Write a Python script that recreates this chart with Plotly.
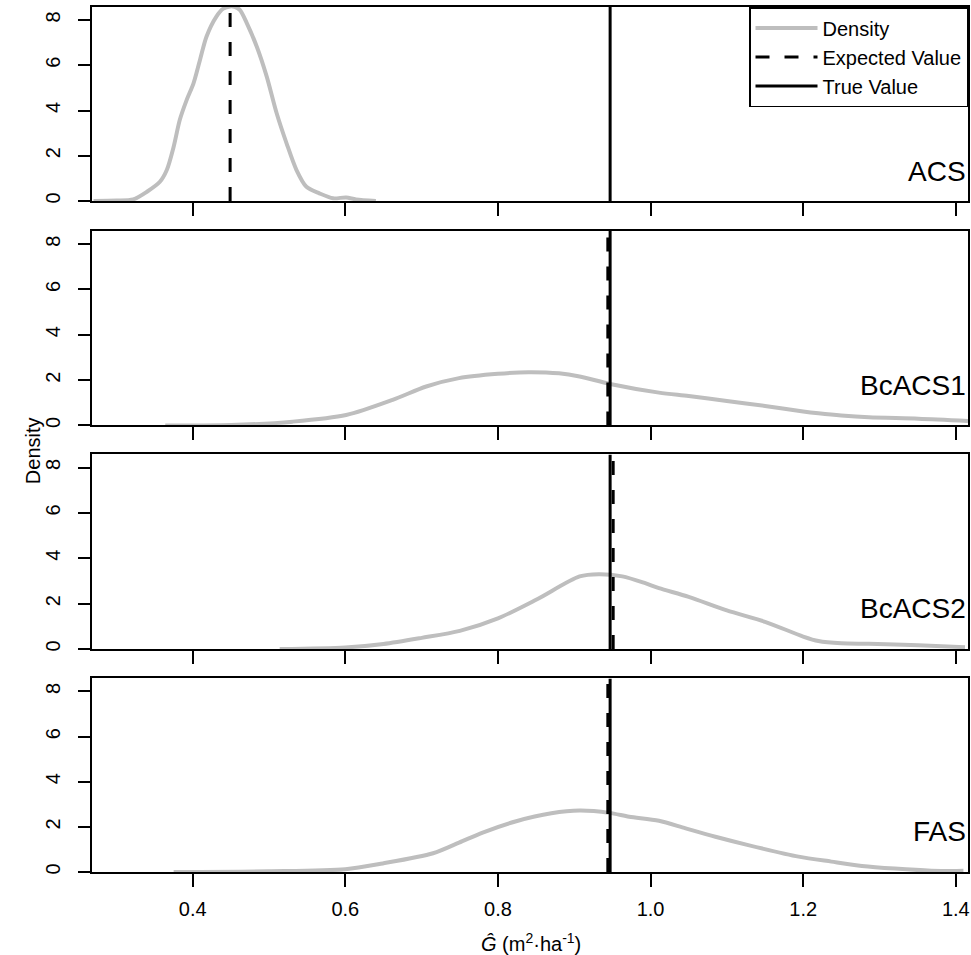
import plotly.graph_objects as go

# ---- data ----
panels = ["ACS", "BcACS1", "BcACS2", "FAS"]

acs_x = [0.27, 0.30, 0.322, 0.34, 0.357, 0.366, 0.375, 0.383, 0.392, 0.401, 0.41, 0.418, 0.431, 0.44, 0.449,
         0.455, 0.462, 0.471, 0.484, 0.497, 0.51, 0.523, 0.536, 0.549, 0.566, 0.584, 0.601, 0.614, 0.64]
acs_y = [0.0, 0.02, 0.07, 0.41, 0.85, 1.37, 2.4, 3.58, 4.46, 5.2, 6.3, 7.26, 8.15, 8.5, 8.6,
         8.58, 8.44, 7.85, 6.82, 5.5, 3.88, 2.55, 1.37, 0.63, 0.34, 0.12, 0.16, 0.07, 0.0]

bc1_x = [0.364, 0.45, 0.531, 0.601, 0.662, 0.706, 0.749, 0.8, 0.84, 0.88, 0.907, 0.947, 1.011, 1.05,
         1.1, 1.15, 1.2, 1.22, 1.25, 1.286, 1.351, 1.416]
bc1_y = [0.0, 0.02, 0.17, 0.46, 1.13, 1.72, 2.09, 2.28, 2.35, 2.3, 2.16, 1.83, 1.45, 1.3,
         1.08, 0.86, 0.62, 0.54, 0.44, 0.36, 0.3, 0.2]

bc2_x = [0.514, 0.6, 0.65, 0.7, 0.75, 0.8, 0.85, 0.907, 0.932, 0.963, 0.993, 1.011, 1.05, 1.1,
         1.15, 1.2, 1.22, 1.25, 1.286, 1.351, 1.412]
bc2_y = [0.0, 0.07, 0.22, 0.49, 0.8, 1.35, 2.17, 3.2, 3.3, 3.2, 2.9, 2.68, 2.3, 1.7,
         1.2, 0.55, 0.35, 0.25, 0.23, 0.17, 0.08]

fas_x = [0.375, 0.5, 0.6, 0.649, 0.715, 0.749, 0.78, 0.824, 0.87, 0.907, 0.946, 0.972, 1.011, 1.046,
         1.085, 1.128, 1.194, 1.237, 1.277, 1.32, 1.368, 1.41]
fas_y = [0.0, 0.03, 0.12, 0.38, 0.83, 1.3, 1.75, 2.25, 2.6, 2.72, 2.62, 2.45, 2.27, 1.93,
         1.56, 1.19, 0.68, 0.46, 0.27, 0.15, 0.06, 0.05]

density_x = [acs_x, bc1_x, bc2_x, fas_x]
density_y = [acs_y, bc1_y, bc2_y, fas_y]
expected_values = [0.449, 0.944, 0.951, 0.944]
true_value = 0.947
label_y = [1.3, 1.78, 1.78, 1.78]

x_range = [0.268, 1.416]
y_range = [0, 8.575]
x_ticks = [0.4, 0.6, 0.8, 1.0, 1.2, 1.4]
x_ticktext = ["0.4", "0.6", "0.8", "1.0", "1.2", "1.4"]
y_ticks = [0, 2, 4, 6, 8]

domains = [[0.7757, 1.0], [0.5162, 0.7410], [0.2578, 0.4827], [0.0, 0.2237]]

FONT = "Liberation Sans, Arial, sans-serif"
GRAY = "#BEBEBE"

fig = go.Figure()

for i in range(4):
    xa = "x" if i == 0 else f"x{i+1}"
    ya = "y" if i == 0 else f"y{i+1}"
    first = (i == 0)
    fig.add_trace(go.Scatter(x=density_x[i], y=density_y[i], mode="lines",
                             line=dict(color=GRAY, width=4, shape="spline", smoothing=0.8),
                             name="Density", showlegend=first, xaxis=xa, yaxis=ya))
    fig.add_trace(go.Scatter(x=[expected_values[i]] * 2, y=y_range, mode="lines",
                             line=dict(color="black", width=3, dash="14px,15px"),
                             name="Expected Value", showlegend=first, xaxis=xa, yaxis=ya))
    fig.add_trace(go.Scatter(x=[true_value] * 2, y=y_range, mode="lines",
                             line=dict(color="black", width=3),
                             name="True Value", showlegend=first, xaxis=xa, yaxis=ya))

layout = dict(
    width=971, height=955,
    margin=dict(l=92, r=1, t=7, b=83),
    paper_bgcolor="white", plot_bgcolor="white",
    font=dict(family=FONT, size=20, color="black"),
    legend=dict(x=1, xanchor="right", y=1, yanchor="top",
                bordercolor="black", borderwidth=1.5, bgcolor="white",
                font=dict(size=20, color="black"), tracegroupgap=0,
                itemwidth=62),
    annotations=[],
)

for i in range(4):
    xk = "xaxis" if i == 0 else f"xaxis{i+1}"
    yk = "yaxis" if i == 0 else f"yaxis{i+1}"
    ya = "y" if i == 0 else f"y{i+1}"
    xa = "x" if i == 0 else f"x{i+1}"
    layout[xk] = dict(domain=[0, 1], range=x_range, anchor=ya,
                      tickvals=x_ticks, ticktext=x_ticktext,
                      showticklabels=(i == 3), ticks="outside", ticklen=13, tickwidth=1.5,
                      tickcolor="black", showline=True, linecolor="black", linewidth=1.5,
                      mirror=True, showgrid=False, zeroline=False,
                      tickfont=dict(size=20), ticklabelstandoff=5)
    layout[yk] = dict(domain=domains[i], range=y_range, anchor=xa,
                      tickvals=y_ticks, ticks="outside", ticklen=12, tickwidth=1.5,
                      tickcolor="black", showline=True, linecolor="black", linewidth=1.5,
                      mirror=True, showgrid=False, zeroline=False, tickangle=-90,
                      tickfont=dict(size=20), ticklabelstandoff=10)
    layout["annotations"].append(dict(
        text=panels[i], x=x_range[1], y=label_y[i], xref=xa, yref=ya,
        xanchor="right", yanchor="middle", showarrow=False,
        font=dict(size=28, color="black")))

layout["annotations"].append(dict(
    text="Density", x=(20 - 92) / 878, y=(955 - 451 - 83) / 865, xref="paper", yref="paper",
    showarrow=False, textangle=-90, font=dict(size=20)))
layout["annotations"].append(dict(
    text="<i>Ĝ</i> (m<sup>2</sup>·ha<sup>-1</sup>)", x=(532 - 92) / 878, y=-0.082,
    xref="paper", yref="paper", showarrow=False, xanchor="center", yanchor="middle",
    font=dict(size=20)))

fig.update_layout(**layout)
fig.write_html("out.html")
